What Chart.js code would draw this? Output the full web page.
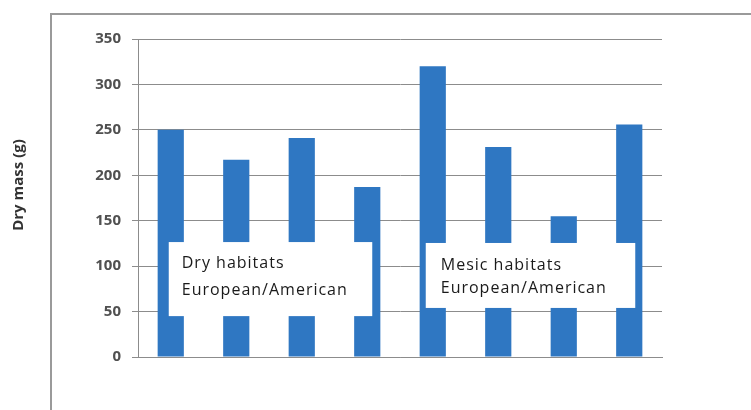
<!DOCTYPE html>
<html>
<head>
<meta charset="utf-8">
<script src="https://cdn.jsdelivr.net/npm/chart.js@4.4.0/dist/chart.umd.min.js"></script>
<style>
  html, body { margin: 0; padding: 0; background: #fff; }
  #wrap { width: 751px; height: 410px; }
</style>
</head>
<body>
<div id="wrap"><canvas id="massChart" width="751" height="410"></canvas></div>
<script>
// --- Data ---
const categories = ['Dry 1', 'Dry 2', 'Dry 3', 'Dry 4', 'Mesic 1', 'Mesic 2', 'Mesic 3', 'Mesic 4'];
const dryMass = [250, 217, 241, 187, 320, 231, 155, 256];
const yMin = 0, yMax = 350, yStep = 50;
const yTitle = 'Dry mass (g)';
const groupLabels = [
    ['Dry habitats', 'European/American'],
    ['Mesic habitats', 'European/American']
];

const barColor = '#2f77c2';
const gridColor = '#8c8c8c';

// white label boxes laid over the bars (first bar, last bar, top value, bottom value)
const boxPlugin = {
    id: 'groupBoxes',
    afterDatasetsDraw(chart) {
        const { ctx, scales: { x, y } } = chart;
        const boxes = [
            { from: 0, to: 3, l: -2, r: 5, top: 126.5, bottom: 45, pad: 13, lines: groupLabels[0], dy: [263, 290] },
            { from: 4, to: 7, l: -7, r: 6, top: 125.5, bottom: 54, pad: 15, lines: groupLabels[1], dy: [265, 288] }
        ];
        ctx.save();
        boxes.forEach(b => {
            const left = x.getPixelForValue(b.from) + b.l;
            const right = x.getPixelForValue(b.to) + b.r;
            const top = y.getPixelForValue(b.top);
            const bottom = y.getPixelForValue(b.bottom);
            ctx.fillStyle = '#fff';
            ctx.fillRect(left, top, right - left, bottom - top);
            ctx.fillStyle = '#1a1a1a';
            ctx.font = '16px "Open Sans", sans-serif';
            ctx.letterSpacing = '1px';
            ctx.textBaseline = 'middle';
            ctx.textAlign = 'left';
            b.lines.forEach((t, i) => ctx.fillText(t, left + b.pad, b.dy[i]));
        });
        ctx.restore();
    }
};

// outer frame and the rotated axis title
const framePlugin = {
    id: 'frame',
    beforeDraw(chart) {
        const { ctx } = chart;
        ctx.save();
        ctx.strokeStyle = '#9a9a9a';
        ctx.lineWidth = 2;
        ctx.strokeRect(51, 14, 760, 420);
        ctx.translate(19, 185);
        ctx.rotate(-Math.PI / 2);
        ctx.fillStyle = '#333';
        ctx.font = 'bold 15px "Open Sans", sans-serif';
        ctx.textAlign = 'center';
        ctx.textBaseline = 'middle';
        ctx.fillText(yTitle, 0, 0);
        ctx.restore();
    }
};

new Chart(document.getElementById('massChart'), {
    type: 'bar',
    data: {
        labels: categories,
        datasets: [{
            label: 'Dry mass',
            data: dryMass,
            backgroundColor: barColor,
            barPercentage: 0.4,
            categoryPercentage: 1
        }]
    },
    options: {
        responsive: false,
        animation: false,
        layout: { padding: { top: 39, right: 89, bottom: 53, left: 0 } },
        plugins: { legend: { display: false }, tooltip: { enabled: false } },
        scales: {
            x: {
                ticks: { display: false },
                grid: { display: false, drawTicks: false },
                border: { color: gridColor, width: 1 },
                afterFit(scale) { scale.height = 0; }
            },
            y: {
                min: yMin, max: yMax,
                ticks: {
                    stepSize: yStep,
                    padding: 11,
                    color: '#505050',
                    font: { family: '"Open Sans", sans-serif', size: 15, weight: 'bold' }
                },
                grid: { color: gridColor, lineWidth: 1, tickLength: 6 },
                border: { color: gridColor, width: 1 },
                afterFit(scale) { scale.width = 138; }
            }
        }
    },
    plugins: [framePlugin, boxPlugin]
});
</script>
</body>
</html>
